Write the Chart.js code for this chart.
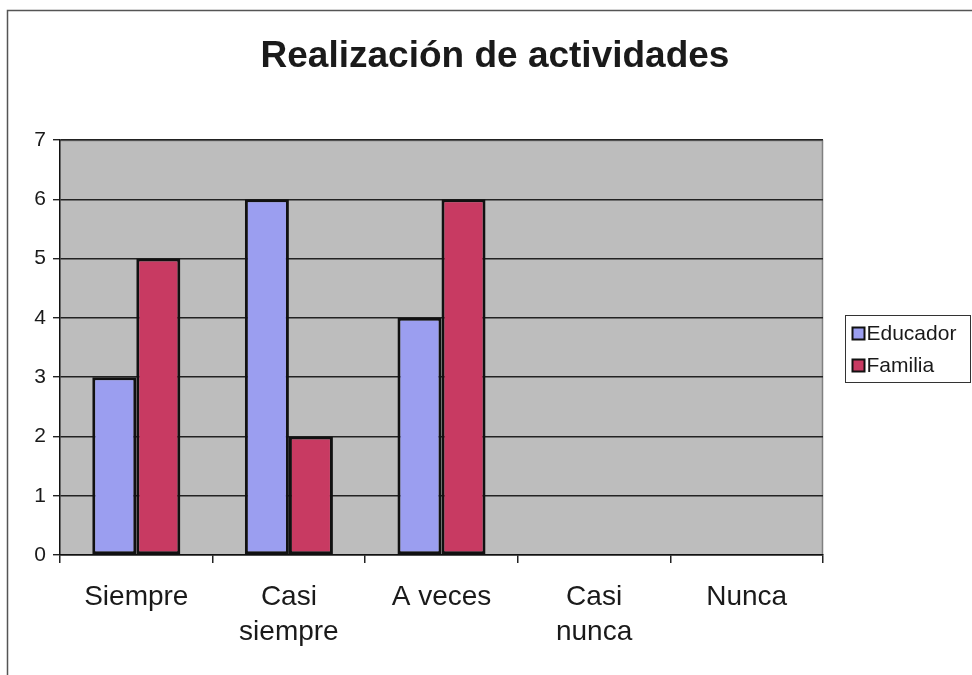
<!DOCTYPE html>
<html>
<head>
<meta charset="utf-8">
<script src="https://cdn.jsdelivr.net/npm/chart.js@4/dist/chart.umd.min.js"></script>
<style>
html,body{margin:0;padding:0;background:#fff;}
#wrap{width:972px;height:675px;position:relative;}
</style>
</head>
<body>
<div id="wrap"><canvas id="c" width="972" height="675"></canvas></div>
<script>
const titleText = 'Realización de actividades';
const categories = [['Siempre'], ['Casi', 'siempre'], ['A veces'], ['Casi', 'nunca'], ['Nunca']];
const seriesNames = ['Educador', 'Familia'];
const educador = [3, 6, 4, 0, 0];
const familia = [5, 2, 6, 0, 0];
const yTicks = [0, 1, 2, 3, 4, 5, 6, 7];

const FONT = '"Liberation Sans", Arial, sans-serif';
const colors = ['#9b9ef0', '#c83a62'];

const pagePlugin = {
  id: 'page',
  beforeDraw(chart) {
    const ctx = chart.ctx;
    const a = chart.chartArea;
    ctx.save();
    ctx.fillStyle = '#ffffff';
    ctx.fillRect(0, 0, chart.width, chart.height);
    // outer frame
    ctx.strokeStyle = '#555555';
    ctx.lineWidth = 1.5;
    ctx.strokeRect(7.5, 10.5, 990, 700);
    // plot background
    ctx.fillStyle = '#bdbdbd';
    ctx.fillRect(a.left, a.top, a.right - a.left, a.bottom - a.top);
    ctx.strokeStyle = '#808080';
    ctx.lineWidth = 1.5;
    ctx.beginPath();
    ctx.moveTo(a.left, a.top + 0.5);
    ctx.lineTo(a.right - 0.5, a.top + 0.5);
    ctx.lineTo(a.right - 0.5, a.bottom);
    ctx.stroke();
    // title
    ctx.fillStyle = '#1a1a1a';
    ctx.font = 'bold 37px ' + FONT;
    ctx.textAlign = 'center';
    ctx.textBaseline = 'middle';
    ctx.fillText(titleText, 495, 57);
    ctx.restore();
  },
  afterDraw(chart) {
    const ctx = chart.ctx;
    ctx.save();
    // legend box
    const lx = 845.5, ly = 315.5, lw = 125, lh = 67;
    ctx.strokeStyle = '#333333';
    ctx.lineWidth = 1;
    ctx.strokeRect(lx, ly, lw, lh);
    ctx.font = '21px ' + FONT;
    ctx.textBaseline = 'middle';
    ctx.textAlign = 'left';
    chart.data.datasets.forEach((ds, i) => {
      const cy = ly + 18 + i * 32;
      ctx.fillStyle = ds.backgroundColor;
      ctx.fillRect(lx + 7, cy - 6, 12, 12);
      ctx.strokeStyle = '#111';
      ctx.lineWidth = 2;
      ctx.strokeRect(lx + 7, cy - 6, 12, 12);
      ctx.fillStyle = '#1a1a1a';
      ctx.fillText(ds.label, lx + 21, cy + 1);
    });
    ctx.restore();
  }
};

new Chart(document.getElementById('c'), {
  type: 'bar',
  data: {
    labels: categories,
    datasets: [
      { label: seriesNames[0], data: educador, backgroundColor: colors[0] },
      { label: seriesNames[1], data: familia, backgroundColor: colors[1] }
    ]
  },
  options: {
    responsive: false,
    animation: false,
    layout: { padding: { top: 140, right: 149, bottom: 0, left: 0 } },
    datasets: {
      bar: {
        categoryPercentage: 0.577,
        barPercentage: 1.0,
        borderColor: '#111111',
        borderWidth: 3,
        borderSkipped: false
      }
    },
    plugins: {
      legend: { display: false },
      title: { display: false },
      tooltip: { enabled: false }
    },
    scales: {
      x: {
        afterFit(scale) { scale.height = 120; },
        grid: { drawOnChartArea: false, drawTicks: true, tickLength: 8, color: '#222', lineWidth: 1.5, offset: true },
        border: { color: '#111', width: 1.5 },
        ticks: { color: '#1a1a1a', font: { family: FONT, size: 28, lineHeight: 1.25 }, padding: 17, maxRotation: 0 }
      },
      y: {
        min: 0,
        max: 7,
        afterFit(scale) { scale.width = 60; },
        afterBuildTicks(scale) { scale.ticks = yTicks.map(v => ({ value: v })); },
        grid: { color: '#222', lineWidth: 1.4, tickLength: 7 },
        border: { color: '#111', width: 1.5 },
        ticks: { color: '#1a1a1a', font: { family: FONT, size: 21 }, padding: 7 }
      }
    }
  },
  plugins: [pagePlugin]
});
</script>
</body>
</html>
